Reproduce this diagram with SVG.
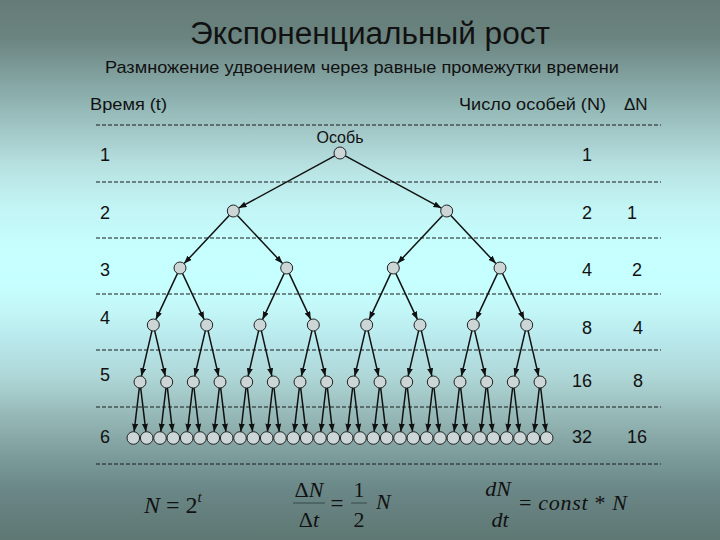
<svg xmlns="http://www.w3.org/2000/svg" width="720" height="540" viewBox="0 0 720 540">
<defs>
<linearGradient id="bg" x1="0" y1="0" x2="0" y2="1">
<stop offset="0" stop-color="#657b77"/>
<stop offset="0.07" stop-color="#6b8480"/>
<stop offset="0.12" stop-color="#7a9896"/>
<stop offset="0.19" stop-color="#90b4b2"/>
<stop offset="0.26" stop-color="#a8cece"/>
<stop offset="0.31" stop-color="#b8e2e2"/>
<stop offset="0.38" stop-color="#c2f4f4"/>
<stop offset="0.46" stop-color="#c6fefe"/>
<stop offset="0.52" stop-color="#c6ffff"/>
<stop offset="0.57" stop-color="#c4f8f8"/>
<stop offset="0.63" stop-color="#b8e8ec"/>
<stop offset="0.70" stop-color="#aed6d6"/>
<stop offset="0.78" stop-color="#92b4b2"/>
<stop offset="0.85" stop-color="#7a9a9a"/>
<stop offset="0.91" stop-color="#6a8686"/>
<stop offset="1" stop-color="#5e7773"/>
</linearGradient>
<marker id="ah" markerUnits="userSpaceOnUse" markerWidth="9" markerHeight="7" refX="8" refY="3" orient="auto">
<path d="M0,0 L8,3 L0,6 z" fill="#111"/>
</marker>
</defs>
<style>
.t{font-family:"Liberation Sans",Arial,sans-serif;fill:#111}
.m{font-family:"Liberation Serif","Times New Roman",serif;fill:#111}
.i{font-style:italic}
.dash{stroke:#1a1a1a;stroke-width:1;stroke-dasharray:4 2;fill:none}
.c path{stroke:#111;stroke-width:1.5;fill:none;marker-end:url(#ah)}
.n circle{fill:#ccd6d6;stroke:#222;stroke-width:1}
.bar{stroke:#2a3a3a;stroke-width:0.8}
</style>
<rect width="720" height="540" fill="url(#bg)"/>

<g id="titles">
<text class="t" x="370" y="44" font-size="31" text-anchor="middle" textLength="360" lengthAdjust="spacingAndGlyphs">Экспоненциальный рост</text>
<text class="t" x="105" y="73" font-size="17" textLength="514" lengthAdjust="spacingAndGlyphs">Размножение удвоением через равные промежутки времени</text>
</g>

<g id="headers">
<text class="t" x="90" y="110" font-size="17" textLength="77" lengthAdjust="spacingAndGlyphs">Время (t)</text>
<text class="t" x="459" y="110" font-size="17" textLength="147" lengthAdjust="spacingAndGlyphs">Число особей (N)</text>
<text class="t" x="624" y="110" font-size="17">ΔN</text>
<text class="t" x="340" y="143" font-size="16" text-anchor="middle">Особь</text>
</g>

<g id="grid">
<line class="dash" x1="96" y1="125" x2="661" y2="125"/>
<line class="dash" x1="96" y1="182" x2="661" y2="182"/>
<line class="dash" x1="96" y1="238" x2="661" y2="238"/>
<line class="dash" x1="96" y1="294" x2="661" y2="294"/>
<line class="dash" x1="96" y1="350" x2="661" y2="350"/>
<line class="dash" x1="96" y1="407" x2="661" y2="407"/>
<line class="dash" x1="96" y1="464" x2="661" y2="464"/>
</g>

<g id="row-labels" font-size="18">
<text class="t" x="100" y="161">1</text>
<text class="t" x="100" y="219">2</text>
<text class="t" x="100" y="276">3</text>
<text class="t" x="100" y="324">4</text>
<text class="t" x="100" y="381">5</text>
<text class="t" x="100" y="443">6</text>
</g>

<g id="counts" font-size="18">
<text class="t" x="587" y="161" text-anchor="middle">1</text>
<text class="t" x="587" y="219" text-anchor="middle">2</text>
<text class="t" x="632" y="219" text-anchor="middle">1</text>
<text class="t" x="587" y="276" text-anchor="middle">4</text>
<text class="t" x="637" y="276" text-anchor="middle">2</text>
<text class="t" x="587" y="334" text-anchor="middle">8</text>
<text class="t" x="638" y="334" text-anchor="middle">4</text>
<text class="t" x="582" y="387" text-anchor="middle">16</text>
<text class="t" x="638" y="387" text-anchor="middle">8</text>
<text class="t" x="582" y="443" text-anchor="middle">32</text>
<text class="t" x="637" y="443" text-anchor="middle">16</text>
</g>

<g id="connectors" class="c">
<path d="M334.7,155.9 L238.6,208.1"/>
<path d="M345.3,155.9 L441.4,208.1"/>
<path d="M229.2,215.4 L184.1,263.6"/>
<path d="M237.4,215.4 L282.6,263.6"/>
<path d="M442.6,215.4 L397.4,263.6"/>
<path d="M450.8,215.4 L495.9,263.6"/>
<path d="M177.5,273.4 L155.8,319.6"/>
<path d="M182.5,273.4 L204.2,319.6"/>
<path d="M284.2,273.4 L262.5,319.6"/>
<path d="M289.2,273.4 L310.8,319.6"/>
<path d="M390.8,273.4 L369.2,319.6"/>
<path d="M395.8,273.4 L417.5,319.6"/>
<path d="M497.5,273.4 L475.8,319.6"/>
<path d="M502.5,273.4 L524.2,319.6"/>
<path d="M151.9,330.8 L141.4,376.2"/>
<path d="M154.7,330.8 L165.3,376.2"/>
<path d="M205.3,330.8 L194.7,376.2"/>
<path d="M208.1,330.8 L218.6,376.2"/>
<path d="M258.6,330.8 L248.1,376.2"/>
<path d="M261.4,330.8 L271.9,376.2"/>
<path d="M311.9,330.8 L301.4,376.2"/>
<path d="M314.7,330.8 L325.3,376.2"/>
<path d="M365.3,330.8 L354.7,376.2"/>
<path d="M368.1,330.8 L378.6,376.2"/>
<path d="M418.6,330.8 L408.1,376.2"/>
<path d="M421.4,330.8 L431.9,376.2"/>
<path d="M471.9,330.8 L461.4,376.2"/>
<path d="M474.7,330.8 L485.3,376.2"/>
<path d="M525.3,330.8 L514.7,376.2"/>
<path d="M528.1,330.8 L538.6,376.2"/>
<path d="M139.3,388 L134.1,431.7"/>
<path d="M140.7,388 L145.9,431.7"/>
<path d="M166.0,388 L160.8,431.7"/>
<path d="M167.4,388 L172.6,431.7"/>
<path d="M192.6,388 L187.4,431.7"/>
<path d="M194.0,388 L199.2,431.7"/>
<path d="M219.3,388 L214.1,431.7"/>
<path d="M220.7,388 L225.9,431.7"/>
<path d="M246.0,388 L240.8,431.7"/>
<path d="M247.4,388 L252.6,431.7"/>
<path d="M272.6,388 L267.4,431.7"/>
<path d="M274.0,388 L279.2,431.7"/>
<path d="M299.3,388 L294.1,431.7"/>
<path d="M300.7,388 L305.9,431.7"/>
<path d="M326.0,388 L320.8,431.7"/>
<path d="M327.4,388 L332.6,431.7"/>
<path d="M352.6,388 L347.4,431.7"/>
<path d="M354.0,388 L359.2,431.7"/>
<path d="M379.3,388 L374.1,431.7"/>
<path d="M380.7,388 L385.9,431.7"/>
<path d="M406.0,388 L400.8,431.7"/>
<path d="M407.4,388 L412.6,431.7"/>
<path d="M432.6,388 L427.4,431.7"/>
<path d="M434.0,388 L439.2,431.7"/>
<path d="M459.3,388 L454.1,431.7"/>
<path d="M460.7,388 L465.9,431.7"/>
<path d="M486.0,388 L480.8,431.7"/>
<path d="M487.4,388 L492.6,431.7"/>
<path d="M512.6,388 L507.4,431.7"/>
<path d="M514.0,388 L519.2,431.7"/>
<path d="M539.3,388 L534.1,431.7"/>
<path d="M540.7,388 L545.9,431.7"/>
</g>

<g id="nodes" class="n">
<g id="n1"><circle cx="340" cy="153" r="6"/></g>
<g id="n2">
<circle cx="233.3" cy="211" r="6"/><circle cx="446.7" cy="211" r="6"/>
</g>
<g id="n3">
<circle cx="180" cy="268" r="6"/><circle cx="286.7" cy="268" r="6"/><circle cx="393.3" cy="268" r="6"/><circle cx="500" cy="268" r="6"/>
</g>
<g id="n4">
<circle cx="153.3" cy="325" r="6"/><circle cx="206.7" cy="325" r="6"/><circle cx="260" cy="325" r="6"/><circle cx="313.3" cy="325" r="6"/>
<circle cx="366.7" cy="325" r="6"/><circle cx="420" cy="325" r="6"/><circle cx="473.3" cy="325" r="6"/><circle cx="526.7" cy="325" r="6"/>
</g>
<g id="n5">
<circle cx="140" cy="382" r="6"/><circle cx="166.7" cy="382" r="6"/><circle cx="193.3" cy="382" r="6"/><circle cx="220" cy="382" r="6"/>
<circle cx="246.7" cy="382" r="6"/><circle cx="273.3" cy="382" r="6"/><circle cx="300" cy="382" r="6"/><circle cx="326.7" cy="382" r="6"/>
<circle cx="353.3" cy="382" r="6"/><circle cx="380" cy="382" r="6"/><circle cx="406.7" cy="382" r="6"/><circle cx="433.3" cy="382" r="6"/>
<circle cx="460" cy="382" r="6"/><circle cx="486.7" cy="382" r="6"/><circle cx="513.3" cy="382" r="6"/><circle cx="540" cy="382" r="6"/>
</g>
<g id="n6">
<circle cx="133.3" cy="438" r="6.3"/><circle cx="146.7" cy="438" r="6.3"/><circle cx="160" cy="438" r="6.3"/><circle cx="173.3" cy="438" r="6.3"/>
<circle cx="186.7" cy="438" r="6.3"/><circle cx="200" cy="438" r="6.3"/><circle cx="213.3" cy="438" r="6.3"/><circle cx="226.7" cy="438" r="6.3"/>
<circle cx="240" cy="438" r="6.3"/><circle cx="253.3" cy="438" r="6.3"/><circle cx="266.7" cy="438" r="6.3"/><circle cx="280" cy="438" r="6.3"/>
<circle cx="293.3" cy="438" r="6.3"/><circle cx="306.7" cy="438" r="6.3"/><circle cx="320" cy="438" r="6.3"/><circle cx="333.3" cy="438" r="6.3"/>
<circle cx="346.7" cy="438" r="6.3"/><circle cx="360" cy="438" r="6.3"/><circle cx="373.3" cy="438" r="6.3"/><circle cx="386.7" cy="438" r="6.3"/>
<circle cx="400" cy="438" r="6.3"/><circle cx="413.3" cy="438" r="6.3"/><circle cx="426.7" cy="438" r="6.3"/><circle cx="440" cy="438" r="6.3"/>
<circle cx="453.3" cy="438" r="6.3"/><circle cx="466.7" cy="438" r="6.3"/><circle cx="480" cy="438" r="6.3"/><circle cx="493.3" cy="438" r="6.3"/>
<circle cx="506.7" cy="438" r="6.3"/><circle cx="520" cy="438" r="6.3"/><circle cx="533.3" cy="438" r="6.3"/><circle cx="546.7" cy="438" r="6.3"/>
</g>
</g>

<g id="formulas">
<text class="m" x="144" y="513" font-size="24"><tspan class="i">N</tspan> = 2<tspan class="i" font-size="15" dy="-11">t</tspan></text>
<text class="m" x="309" y="497" font-size="22" text-anchor="middle">Δ<tspan class="i">N</tspan></text>
<line class="bar" x1="293" y1="503" x2="325" y2="503"/>
<text class="m" x="309" y="527" font-size="22" text-anchor="middle">Δ<tspan class="i">t</tspan></text>
<text class="m" x="337" y="511" font-size="23" text-anchor="middle">=</text>
<text class="m" x="359" y="497" font-size="22" text-anchor="middle">1</text>
<line class="bar" x1="351" y1="503" x2="367" y2="503"/>
<text class="m" x="359" y="527" font-size="22" text-anchor="middle">2</text>
<text class="m i" x="376" y="509" font-size="22">N</text>
<text class="m i" x="498" y="496" font-size="22" text-anchor="middle">dN</text>
<text class="m i" x="500" y="527" font-size="22" text-anchor="middle">dt</text>
<text class="m" x="519" y="510" font-size="22" textLength="108" lengthAdjust="spacing">= <tspan class="i">const</tspan> * <tspan class="i">N</tspan></text>
</g>
</svg>
